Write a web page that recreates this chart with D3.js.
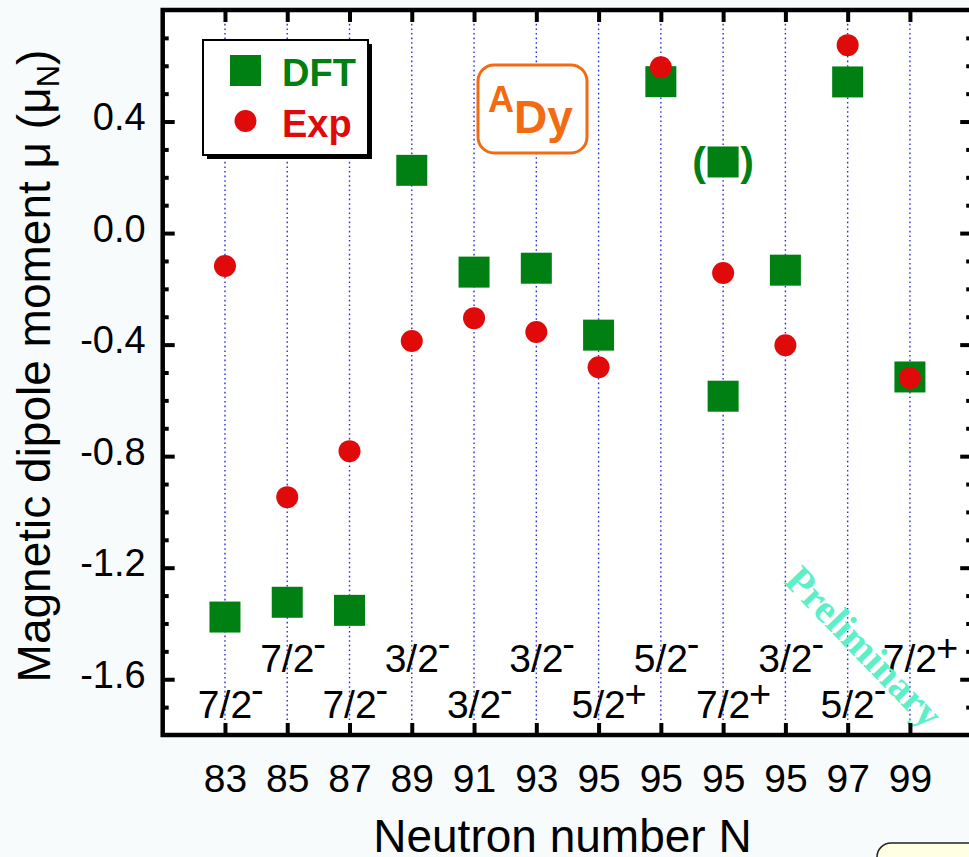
<!DOCTYPE html>
<html>
<head>
<meta charset="utf-8">
<script src="https://cdn.jsdelivr.net/npm/d3@7"></script>
<style>
  body { margin: 0; background: #f7fbfc; }
  svg { display: block; }
</style>
</head>
<body>
<div id="chart"></div>
<script>
// neutron number labels, one per column
const neutronLabels = ["83", "85", "87", "89", "91", "93", "95", "95", "95", "95", "97", "99"];
// spin / parity of each state
const spins = ["7/2", "7/2", "7/2", "3/2", "3/2", "3/2", "5/2", "5/2", "7/2", "3/2", "5/2", "7/2"];
const parities = ["-", "-", "-", "-", "-", "-", "+", "-", "+", "-", "-", "+"];
// magnetic moments (mu_N)
const dftValues = [-1.377, -1.324, -1.353, 0.225, -0.140, -0.126, -0.366, 0.543, -0.585, -0.133, 0.542, -0.516];
const expValues = [-0.118, -0.947, -0.782, -0.387, -0.305, -0.355, -0.481, 0.595, -0.143, -0.402, 0.674, -0.520];
// second (bracketed) DFT solution
const dftAltIndex = [8];
const dftAltValues = [0.255];

const yMajor = [-1.6, -1.2, -0.8, -0.4, 0.0, 0.4];
const yMinor = d3.range(-17, 8).map(d => d / 10).filter(d => !yMajor.some(m => Math.abs(m - d) < 1e-9));

var width = 969, height = 857;
var green = "#008012", red = "#e00a0a";
var font = "'Liberation Sans', Arial, sans-serif";

var svg = d3.select("#chart").append("svg")
  .attr("width", width)
  .attr("height", height)
  .style("font-family", font);

var x = d3.scaleLinear().domain([-1, 12]).range([162.7, 972.2]);
var y = d3.scaleLinear().domain([-1.8, 0.8]).range([735, 10]);

// plot background
svg.append("rect")
  .attr("x", x(-1)).attr("y", y(0.8))
  .attr("width", x(12) - x(-1)).attr("height", y(-1.8) - y(0.8))
  .attr("fill", "white");

// dotted guide lines per state
svg.selectAll(".guide")
  .data(d3.range(neutronLabels.length))
  .enter().append("line")
  .attr("x1", d => x(d)).attr("x2", d => x(d))
  .attr("y1", y(0.8)).attr("y2", y(-1.8))
  .attr("stroke", "#2a2ae6")
  .attr("stroke-width", 1.4)
  .attr("stroke-dasharray", "1.6,3");

// spin labels, alternating rows
var spinG = svg.append("g").attr("font-size", "39px").attr("fill", "black");
spinG.selectAll(".spin")
  .data(spins)
  .enter().append("text")
  .attr("x", (d, i) => x(i))
  .attr("y", (d, i) => i % 2 === 0 ? 718 : 672)
  .attr("text-anchor", "middle")
  .text(d => d);
spinG.selectAll(".parity")
  .data(parities)
  .enter().append("text")
  .attr("x", (d, i) => x(i) + (d === "+" ? 26 : 26))
  .attr("y", (d, i) => (i % 2 === 0 ? 718 : 672) + (d === "+" ? -11 : -15))
  .attr("font-size", d => d === "+" ? "38px" : "38px")
  .text(d => d);

// Preliminary stamp
svg.append("text")
  .attr("transform", "translate(864,647) rotate(46)")
  .attr("text-anchor", "middle")
  .attr("dominant-baseline", "central")
  .attr("font-family", "'Liberation Serif', 'Times New Roman', serif")
  .attr("font-weight", "bold")
  .attr("font-size", "40px")
  .attr("fill", "#5cf0c8")
  .text("Preliminary");

// DFT squares
var sq = 31;
svg.selectAll(".dft")
  .data(dftValues)
  .enter().append("rect")
  .attr("x", (d, i) => x(i) - sq / 2)
  .attr("y", d => y(d) - sq / 2)
  .attr("width", sq).attr("height", sq)
  .attr("fill", green);

svg.selectAll(".dftAlt")
  .data(dftAltValues)
  .enter().append("rect")
  .attr("x", (d, i) => x(dftAltIndex[i]) - sq / 2)
  .attr("y", d => y(d) - sq / 2)
  .attr("width", sq).attr("height", sq)
  .attr("fill", green);

// brackets round the alternative solution
dftAltValues.forEach(function(v, i) {
  ["(", ")"].forEach(function(c, k) {
    svg.append("text")
      .attr("x", x(dftAltIndex[i]) + (k === 0 ? -24 : 24))
      .attr("y", y(v) + 14)
      .attr("text-anchor", "middle")
      .attr("font-weight", "bold")
      .attr("font-size", "41px")
      .attr("fill", green)
      .text(c);
  });
});

// experimental circles
svg.selectAll(".exp")
  .data(expValues)
  .enter().append("circle")
  .attr("cx", (d, i) => x(i))
  .attr("cy", d => y(d))
  .attr("r", 11)
  .attr("fill", red);

// legend
var lg = svg.append("g");
lg.append("rect").attr("x", 207).attr("y", 44).attr("width", 165).attr("height", 115).attr("fill", "black");
lg.append("rect").attr("x", 203).attr("y", 40).attr("width", 165).attr("height", 115)
  .attr("fill", "white").attr("stroke", "black").attr("stroke-width", 2);
lg.append("rect").attr("x", 230).attr("y", 55).attr("width", sq).attr("height", sq).attr("fill", green);
lg.append("circle").attr("cx", 245.5).attr("cy", 121).attr("r", 11).attr("fill", red);
lg.append("text").attr("x", 282).attr("y", 86).attr("font-size", "38px").attr("font-weight", "bold")
  .attr("fill", green).text("DFT");
lg.append("text").attr("x", 282).attr("y", 137).attr("font-size", "38px").attr("font-weight", "bold")
  .attr("fill", red).text("Exp");

// nucleus tag
var tag = svg.append("g");
tag.append("rect").attr("x", 478).attr("y", 65).attr("width", 109).attr("height", 88).attr("rx", 16)
  .attr("fill", "white").attr("stroke", "#f26b12").attr("stroke-width", 3);
tag.append("text").attr("x", 488).attr("y", 112).attr("font-size", "36px").attr("font-weight", "bold")
  .attr("fill", "#f26b12").text("A");
tag.append("text").attr("x", 514).attr("y", 133).attr("font-size", "46px").attr("font-weight", "bold")
  .attr("fill", "#f26b12").text("Dy");

// axes
function styleAxis(g) {
  g.select(".domain").remove();
  g.selectAll(".tick line").attr("stroke", "black").attr("stroke-width", 4);
}

svg.append("g").attr("transform", "translate(" + x(-1) + ",0)")
  .call(d3.axisLeft(y).tickValues(yMinor).tickSize(-6).tickFormat(""))
  .call(styleAxis);
var yAxis = svg.append("g").attr("transform", "translate(" + x(-1) + ",0)")
  .call(d3.axisLeft(y).tickValues(yMajor).tickSize(-12).tickPadding(16).tickFormat(d => d.toFixed(1)))
  .call(styleAxis);
yAxis.selectAll(".tick text")
  .attr("font-size", "38px").attr("font-family", font).attr("fill", "black")
  .attr("x", -17).attr("dy", null).attr("y", 8);

svg.append("g").attr("transform", "translate(" + x(12) + ",0)")
  .call(d3.axisRight(y).tickValues(yMinor).tickSize(-6).tickFormat(""))
  .call(styleAxis);
svg.append("g").attr("transform", "translate(" + x(12) + ",0)")
  .call(d3.axisRight(y).tickValues(yMajor).tickSize(-12).tickFormat(""))
  .call(styleAxis);

svg.append("g").attr("transform", "translate(0," + y(0.8) + ")")
  .call(d3.axisTop(x).tickValues(d3.range(neutronLabels.length)).tickSize(-12).tickFormat(""))
  .call(styleAxis);
var xAxis = svg.append("g").attr("transform", "translate(0," + y(-1.8) + ")")
  .call(d3.axisBottom(x).tickValues(d3.range(neutronLabels.length)).tickSize(-12).tickFormat(i => neutronLabels[i]))
  .call(styleAxis);
xAxis.selectAll(".tick text")
  .attr("font-size", "39px").attr("font-family", font).attr("fill", "black")
  .attr("dy", null).attr("y", 57);

// frame
svg.append("rect")
  .attr("x", x(-1)).attr("y", y(0.8))
  .attr("width", x(12) - x(-1)).attr("height", y(-1.8) - y(0.8))
  .attr("fill", "none").attr("stroke", "black").attr("stroke-width", 4.5);

// axis titles
svg.append("text")
  .attr("x", (x(-1) + x(12)) / 2 - 5).attr("y", 852)
  .attr("text-anchor", "middle").attr("font-size", "46px")
  .text("Neutron number N");

var yt = svg.append("text")
  .attr("transform", "translate(50,366) rotate(-90)")
  .attr("text-anchor", "middle").attr("font-size", "46px");
yt.append("tspan").text("Magnetic dipole moment \u03bc (\u03bc");
yt.append("tspan").attr("font-size", "31px").attr("dy", 9).text("N");
yt.append("tspan").attr("dy", -9).text(")");

// corner note box (cut by the page edge)
svg.append("rect")
  .attr("x", 877).attr("y", 843).attr("width", 140).attr("height", 60).attr("rx", 14)
  .attr("fill", "#ffffe4").attr("stroke", "#222").attr("stroke-width", 1.5);
</script>
</body>
</html>
